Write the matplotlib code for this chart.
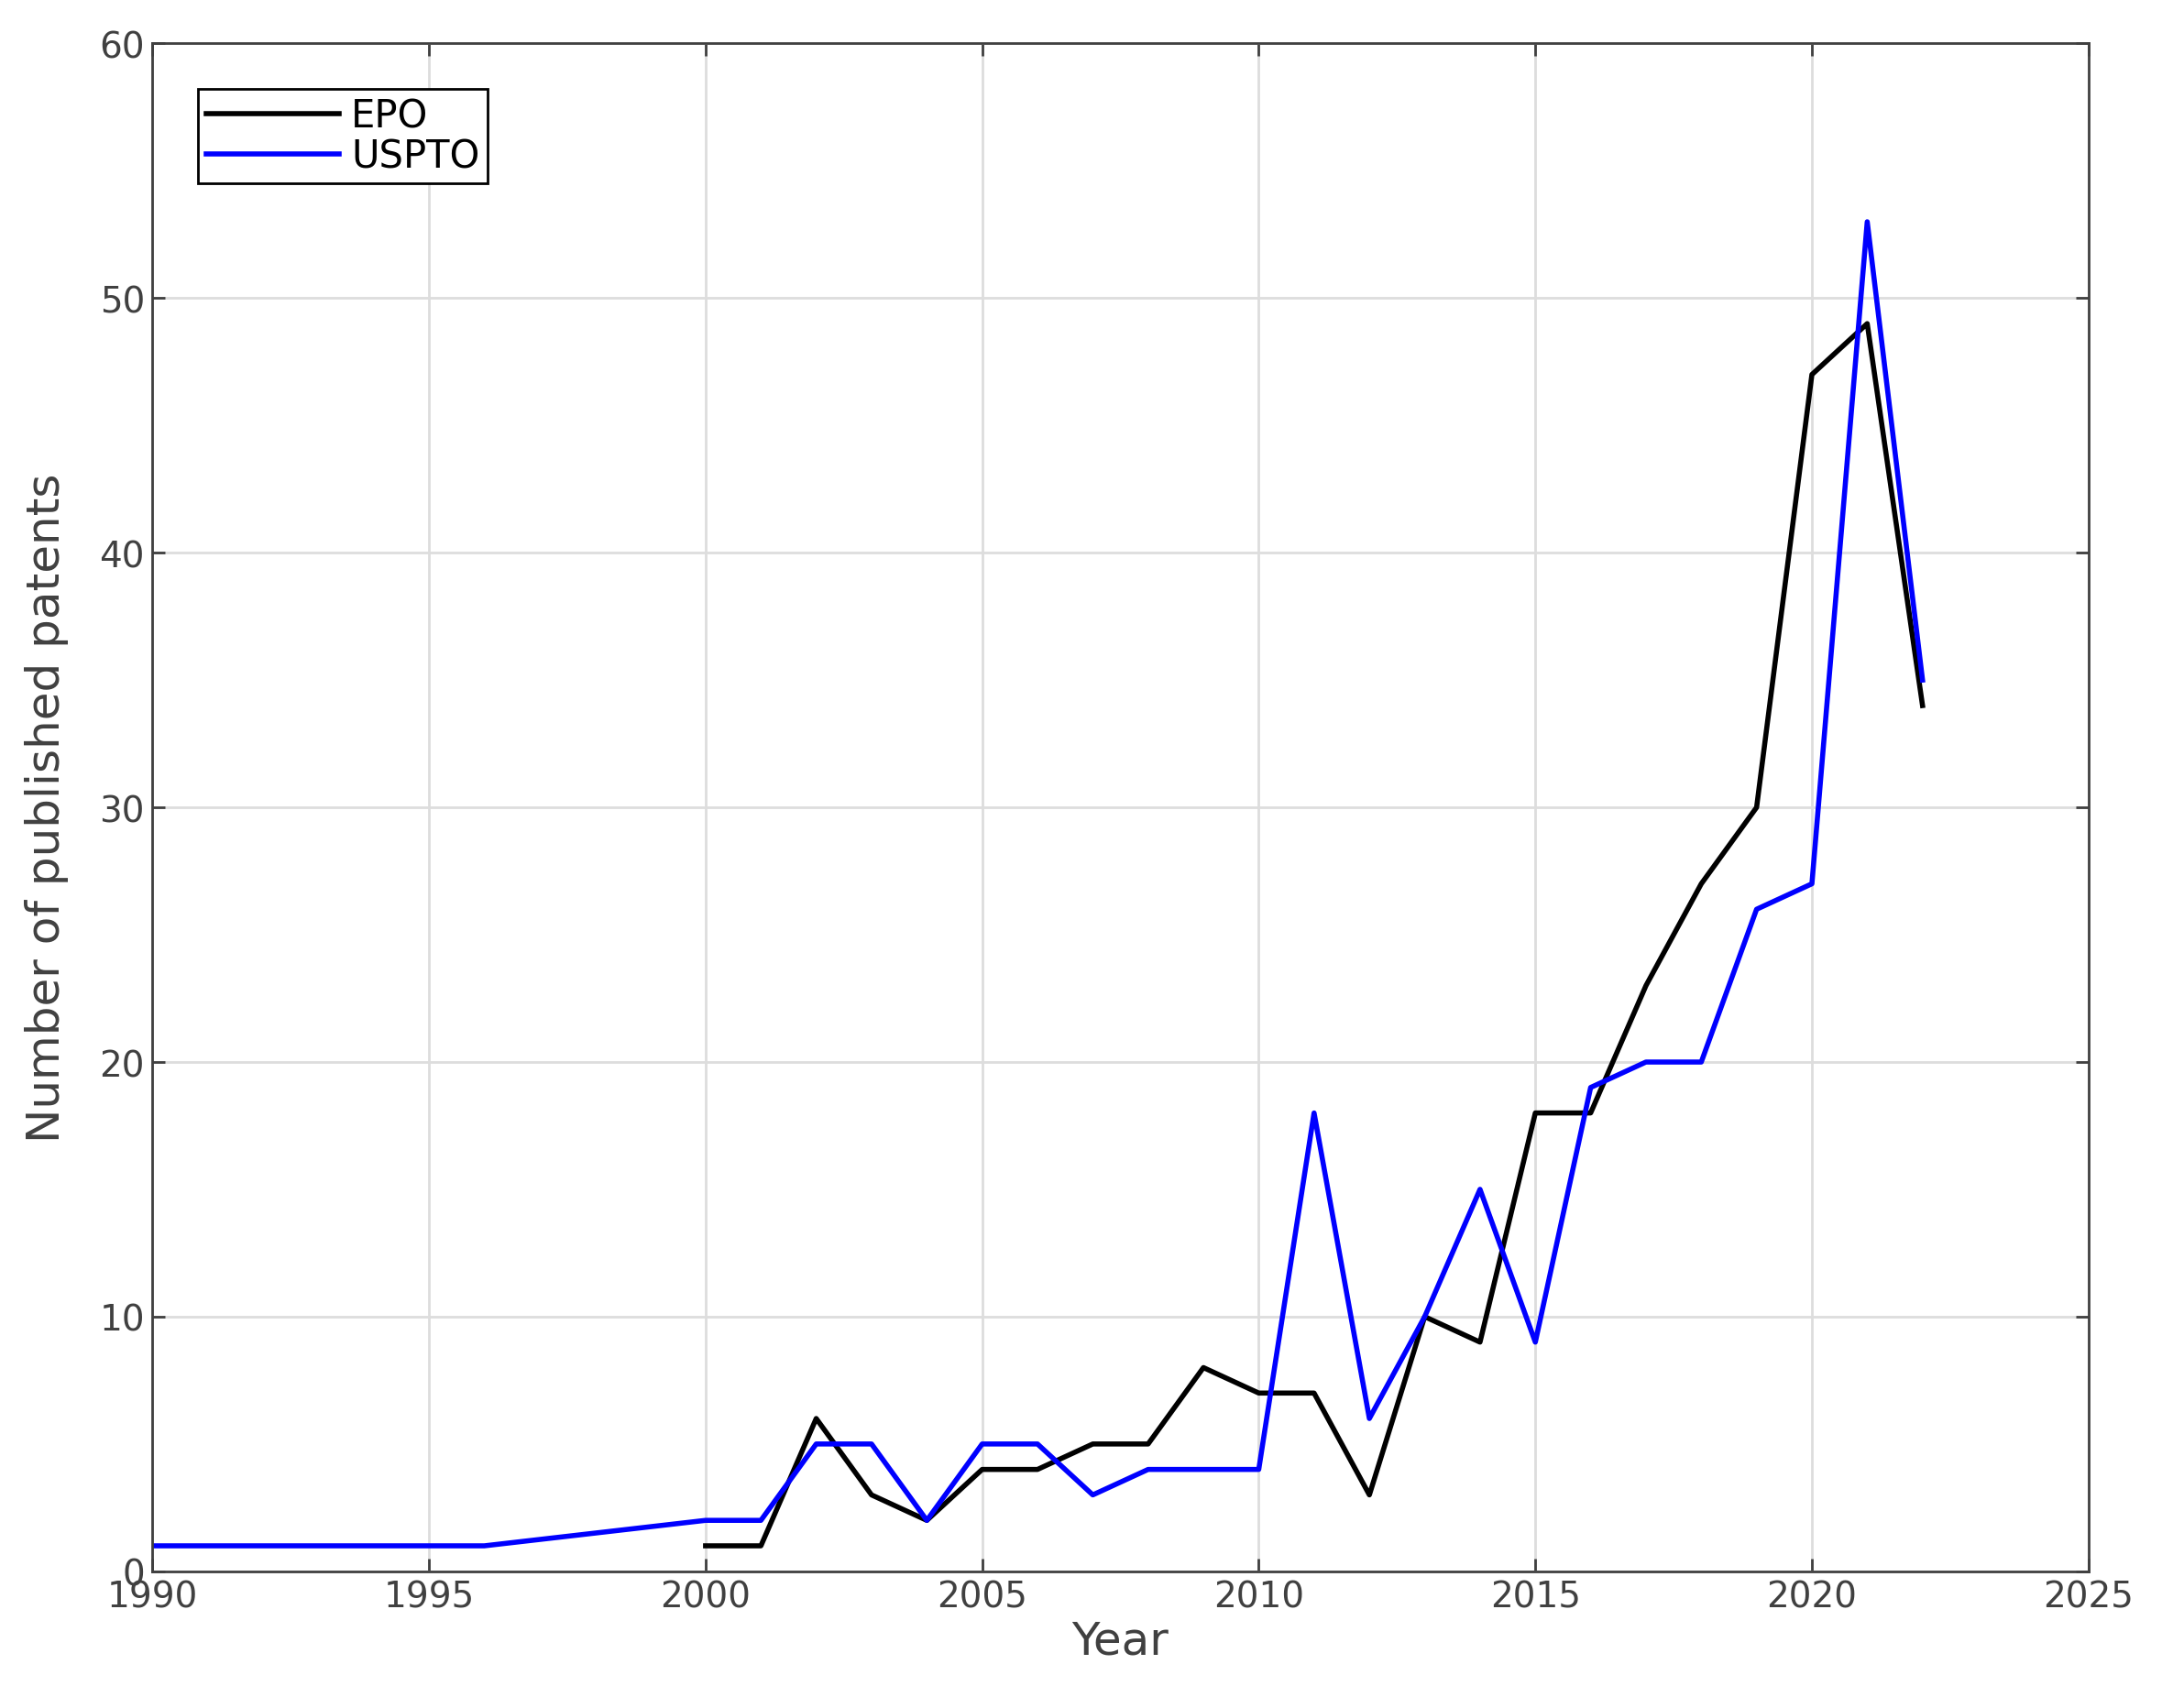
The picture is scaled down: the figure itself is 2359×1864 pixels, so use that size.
import matplotlib.pyplot as plt

usp_years = [1990, 1996, 2000, 2001, 2002, 2003, 2004, 2005, 2006, 2007, 2008, 2009,
             2010, 2011, 2012, 2013, 2014, 2015, 2016, 2017, 2018, 2019, 2020, 2021, 2022]
usp_vals = [1, 1, 2, 2, 5, 5, 2, 5, 5, 3, 4, 4, 4, 18, 6, 10, 15, 9, 19, 20, 20, 26, 27, 53, 35]
epo_years = [2000, 2001, 2002, 2003, 2004, 2005, 2006, 2007, 2008, 2009, 2010, 2011,
             2012, 2013, 2014, 2015, 2016, 2017, 2018, 2019, 2020, 2021, 2022]
epo_vals = [1, 1, 6, 3, 2, 4, 4, 5, 5, 8, 7, 7, 3, 10, 9, 18, 18, 23, 27, 30, 47, 49, 34]

fig = plt.figure(figsize=(23.59, 18.65), dpi=100)
ax = fig.add_axes([0.0705, 0.080, 0.8955, 0.894])
ax.plot(epo_years, epo_vals, color="black", lw=4, label="EPO")
ax.plot(usp_years, usp_vals, color="blue", lw=4, label="USPTO")
ax.set_xlim(1990, 2025)
ax.set_ylim(0, 60)
ax.set_xticks(range(1990, 2026, 5))
ax.set_yticks(range(0, 61, 10))
ax.grid(True, color="#dddddd", lw=2)
ax.tick_params(direction="in", labelsize=28, colors="#404040", length=10, width=2,
               top=True, right=True, pad=6)
for s in ax.spines.values():
    s.set_color("#404040")
    s.set_linewidth(2)
ax.set_xlabel("Year", fontsize=36, color="#404040", labelpad=4)
ax.set_ylabel("Number of published patents", fontsize=36, color="#404040", labelpad=24)
leg = ax.legend(loc="upper left", fontsize=30, fancybox=False, framealpha=1,
                edgecolor="black", handlelength=3.5, handletextpad=0.3,
                labelspacing=0.05, borderpad=0.2, borderaxespad=1.2)
leg.get_frame().set_linewidth(2)
fig.savefig("out.png", dpi=100)
